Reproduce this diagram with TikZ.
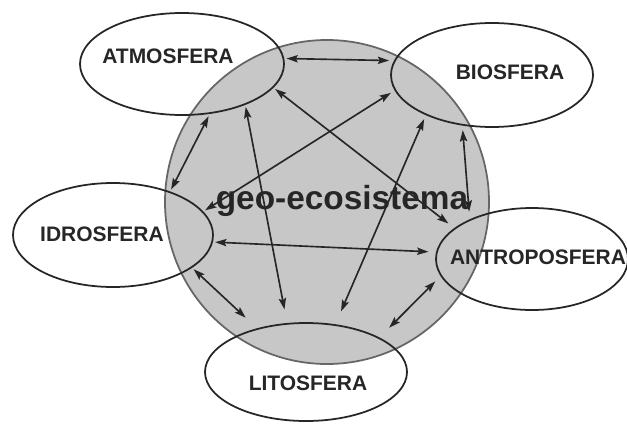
\documentclass[tikz,border=0pt]{standalone}
\usepackage{fontspec}
\setmainfont{Liberation Sans}
\usetikzlibrary{shapes.geometric,arrows.meta}

\begin{document}
\begin{tikzpicture}[x=0.03cm, y=-0.03cm] % 1 px = 0.03 cm, y вниз
\tikzstyle{sfera} = [ellipse, draw=black!85, line width=1.5pt, inner sep=0pt] % ellipse style
\tikzstyle{nome} = [font=\bfseries\fontsize{17.9}{20}\selectfont, text=black!85] % подпись сферы
\tikzstyle{freccia} = [{Stealth[length=0.34cm,width=0.22cm,inset=0.06cm]}-{Stealth[length=0.34cm,width=0.22cm,inset=0.06cm]}, line width=1.4pt, draw=black!85] % двойная стрелка
\useasboundingbox (0,0) rectangle (627,423);

% большой круг
\node[circle, fill=black!22, draw=black!60, line width=1.5pt, minimum size=9.72cm, inner sep=0pt] (eco) at (327,202) {};

% сферы
\node[sfera, minimum width=6.12cm, minimum height=3.06cm, outer sep=0.09cm, label={[nome, xshift=-0.42cm, yshift=0.24cm]center:ATMOSFERA}] (atm) at (182,64) {};
\node[sfera, minimum width=6.06cm, minimum height=3.12cm, outer sep=0.16cm, label={[nome, xshift=0.54cm, yshift=0.09cm]center:BIOSFERA}] (bio) at (492,75) {};
\node[sfera, minimum width=6.0cm, minimum height=3.12cm, outer sep=0.09cm, label={[nome, xshift=-0.33cm, yshift=0.03cm]center:IDROSFERA}] (idro) at (113,235) {};
\node[sfera, minimum width=5.76cm, minimum height=3.06cm, outer sep=0.25cm, label={[nome, xshift=0.18cm, yshift=0.06cm]center:ANTROPOSFERA}] (antr) at (532,259) {};
\node[sfera, minimum width=6.06cm, minimum height=2.94cm, outer sep=0.44cm, label={[nome, xshift=0.06cm, yshift=-0.33cm]center:LITOSFERA}] (lito) at (306,372) {};

% связи
\draw[freccia] (atm.3.8) -- (bio.172.7);
\draw[freccia] (atm.-63.9) -- (idro.38.8);
\draw[freccia] (atm.-34.5) -- (lito.109.3);
\draw[freccia] (atm.-15.4) -- (antr.157);
\draw[freccia] (idro.15.8) -- (bio.190.3);
\draw[freccia] (lito.60) -- (bio.213.3);
\draw[freccia] (antr.143.1) -- (bio.242.7);
\draw[freccia] (idro.-4.6) -- (antr.176.7);
\draw[freccia] (idro.-23.1) -- (lito.138.9);
\draw[freccia] (lito.28.8) -- (antr.193.5);

\node[font=\bfseries\fontsize{28.5}{30}\selectfont, text=black!85, anchor=base] (geo) at (342,209) {geo-ecosistema};
\end{tikzpicture}
\end{document}
